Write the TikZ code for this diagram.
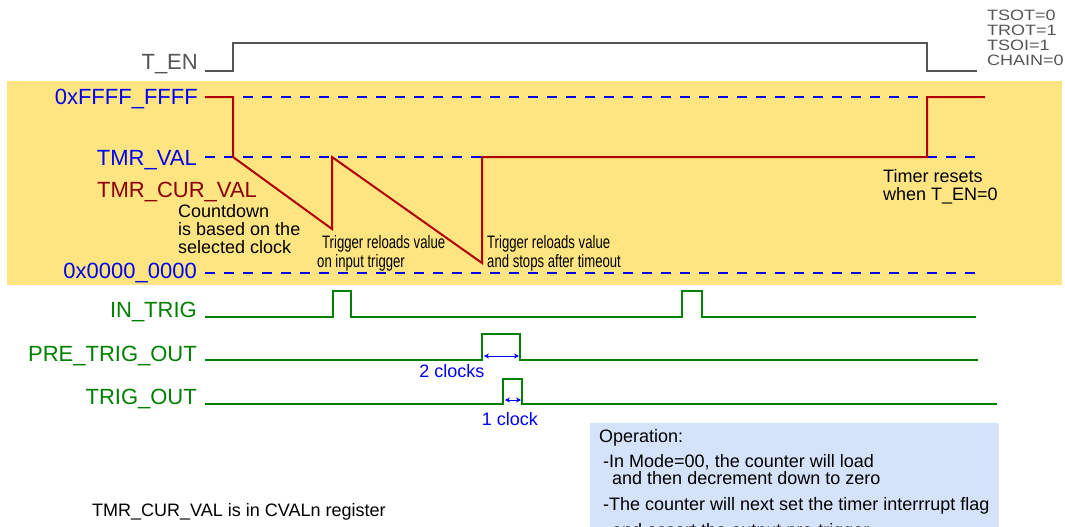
\documentclass[tikz,border=0pt]{standalone}
\usepackage{fontspec}
\setmainfont{Liberation Sans}
\newfontfamily\narrowfont[FakeStretch=0.73]{Liberation Sans}
\newfontfamily\widefont[FakeStretch=1.2]{Liberation Sans}
\usetikzlibrary{positioning, arrows.meta}
\definecolor{bandyellow}{RGB}{255,229,130}
\definecolor{notebg}{RGB}{212,226,250}
\definecolor{wavered}{RGB}{176,0,0}
\definecolor{curred}{RGB}{140,0,0}
\definecolor{sigblue}{RGB}{0,0,240}
\definecolor{siggreen}{RGB}{0,128,0}
\definecolor{engray}{RGB}{85,85,85}
\tikzset{
    biglabel/.style={anchor=base east, inner sep=0pt, font=\fontsize{22}{26}\selectfont},
    smalltext/.style={anchor=base west, inner sep=0pt, align=left, font=\fontsize{18}{18}\selectfont},
    narrowtext/.style={anchor=base west, inner sep=0pt, align=left, font=\narrowfont\fontsize{18}{19}\selectfont},
    sigline/.style={line width=2pt},
    levelline/.style={sigblue, line width=2pt, dash pattern=on 10pt off 9pt}
}

\begin{document}
\begin{tikzpicture}[x=1pt, y=-1pt, >={Stealth[length=5pt, width=5pt]}]
  \useasboundingbox (0,0) rectangle (1065,527);
  \clip (0,0) rectangle (1065,527);
  \fill[bandyellow] (7,81) rectangle (1062,285);
  \fill[notebg] (590,423) rectangle (999,540);

  \node[biglabel, text=engray] (ten) at (198,70) {T\_EN};
  \draw[engray, sigline] (205,71) -- (233,71) -- (233,43) -- (927,43) -- (927,71) -- (977,71);
  \node[anchor=base west, inner sep=0pt, align=left, text=engray,
        font=\widefont\fontsize{15}{15}\selectfont] (cfg) at (987,66) {TSOT=0\\TROT=1\\TSOI=1\\CHAIN=0};

  \node[biglabel, text=sigblue] (ffff)   at (198,104) {0xFFFF\_FFFF};
  \node[biglabel, text=sigblue] (tmrval) at (197,165) {TMR\_VAL};
  \node[biglabel, text=sigblue] (zero)   at (197,278) {0x0000\_0000};
  \node[anchor=base west, inner sep=0pt, text=curred, font=\fontsize{22}{26}\selectfont] (curval) at (97,197) {TMR\_CUR\_VAL};
  \draw[levelline] (205,97) -- (975,97);
  \draw[levelline] (205,157) -- (975,157);
  \draw[levelline] (205,273) -- (975,273);
  \draw[wavered, sigline] (205,97) -- (233,97) -- (233,157) -- (332,229) -- (332,157) -- (482,263)
    -- (482,157) -- (927,157) -- (927,97) -- (985,97);

  \node[smalltext] (countdown) at (178,253) {Countdown\\is based on the\\selected clock};
  \node[narrowtext] (reload1) at (317,267) {\hspace*{5pt}Trigger reloads value\\on input trigger};
  \node[narrowtext] (reload2) at (487,267) {Trigger reloads value\\and stops after timeout};
  \node[smalltext] (resets) at (883,200) {Timer resets\\when T\_EN=0};

  \node[biglabel, text=siggreen] (intrig)  at (197,317) {IN\_TRIG};
  \node[biglabel, text=siggreen] (pretrig) at (197,361) {PRE\_TRIG\_OUT};
  \node[biglabel, text=siggreen] (trigout) at (197,404) {TRIG\_OUT};
  \draw[siggreen, sigline] (205,317) -- (333,317) -- (333,291) -- (351,291) -- (351,317)
    -- (682,317) -- (682,291) -- (702,291) -- (702,317) -- (976,317);
  \draw[siggreen, sigline] (205,360) -- (482,360) -- (482,334) -- (520,334) -- (520,360) -- (978,360);
  \draw[siggreen, sigline] (205,404) -- (503,404) -- (503,379) -- (522,379) -- (522,404) -- (997,404);

  \coordinate (pa) at (484,356);
  \coordinate (pb) at (519,356);
  \coordinate (ta) at (505,400);
  \coordinate (tb) at (521,400);
  \draw[<->, sigblue, line width=1pt] (pa) -- (pb);
  \draw[<->, sigblue, line width=1pt] (ta) -- (tb);
  \node[anchor=base, inner sep=0pt, text=sigblue, font=\fontsize{18}{18}\selectfont] (twoclk) at (452,377) {2 clocks};
  \node[anchor=base, inner sep=0pt, text=sigblue, font=\fontsize{18}{18}\selectfont] (oneclk) at (510,425) {1 clock};

  \node[smalltext] (op)    at (599,442) {Operation:};
  \node[smalltext] (mode1) at (603,467) {-In Mode=00, the counter will load};
  \node[smalltext] (mode2) at (612,484) {and then decrement down to zero};
  \node[smalltext] (flag1) at (603,510) {-The counter will next set the timer interrrupt flag};
  \node[smalltext] (flag2) at (612,536) {and assert the output pre-trigger};

  \node[smalltext] (cval) at (92,516) {TMR\_CUR\_VAL is in CVALn register};
\end{tikzpicture}
\end{document}
